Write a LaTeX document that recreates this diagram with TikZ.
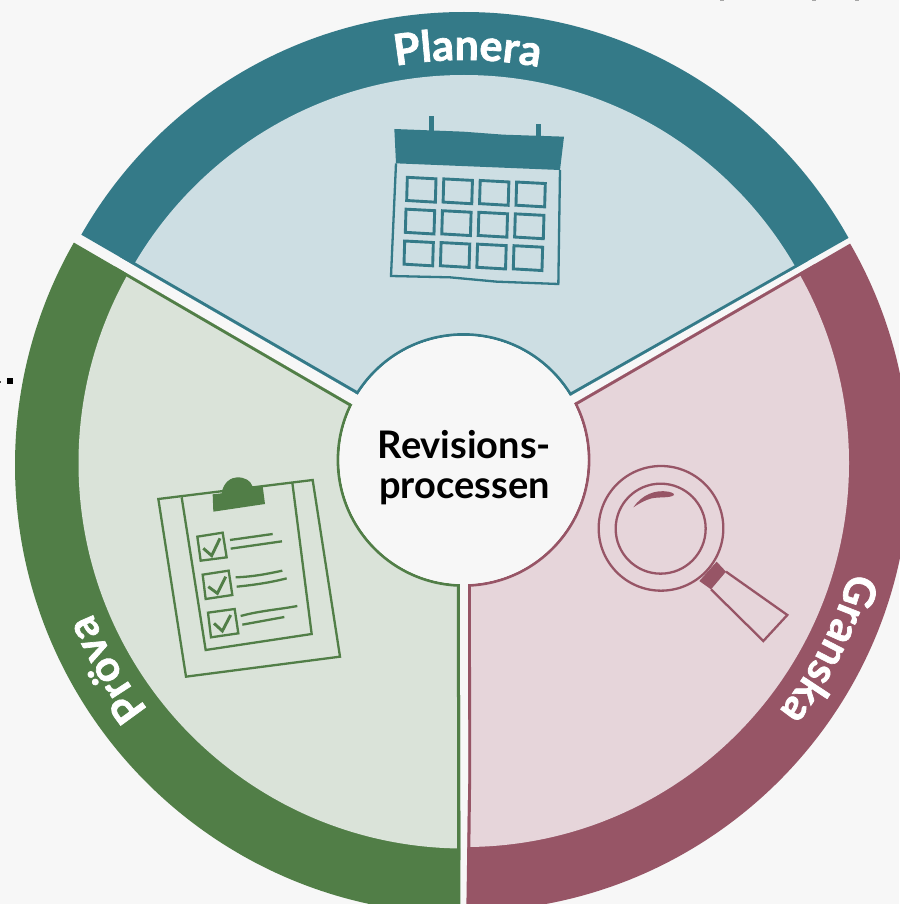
\documentclass[tikz,border=0pt]{standalone}
\usepackage{fontspec}
\setmainfont{Lato}
\newfontfamily\lblfont[FakeBold=1.6]{Lato Bold}
\usetikzlibrary{decorations.text}
\definecolor{bgc}{HTML}{F7F7F7}
\definecolor{tealc}{HTML}{347A88}
\definecolor{teall}{HTML}{CDDEE3}
\definecolor{grn}{HTML}{517E47}
\definecolor{grnl}{HTML}{DAE3D9}
\definecolor{mar}{HTML}{975566}
\definecolor{marl}{HTML}{E6D5DA}
\tikzset{
 icon/.style={line width=2.3pt,line join=miter},
 cell/.style={line width=2.9pt,line join=miter},
 edgeline/.style={line width=5.6pt,line join=miter},
 hub/.style={line width=2.8pt,fill=bgc},
}
\begin{document}
\begin{tikzpicture}[x=1pt,y=-1pt]
\useasboundingbox (0,0) rectangle (899,904);
\fill[bgc] (0,0) rectangle (899,904);
% stray marks at the edges of the crop
\fill[black] (7,378) rectangle (13,384);
\fill[black!70] (0,381) rectangle (1,383);
\fill[black!35] (720,0) rectangle (724,1);
\fill[black!35] (812,0) rectangle (816,1);
\fill[black!35] (855,0) rectangle (859,1);
% Planera sector
\begin{scope}
\clip (-60,153) -- (464,456) -- (1000,152) -- (1000,-100) -- (-60,-100) -- cycle;
\fill[tealc] (464,452) circle[radius=440];
\fill[teall] (464,457) circle[radius=382];
\draw[tealc,edgeline] (120,257) -- (464,456) -- (808,261);
\draw[tealc,hub] (463.5,460) circle[radius=125.5];
\end{scope}
% Granska sector
\begin{scope}
\clip (1000,156.8) -- (468,464.8) -- (468.3,780) -- (466,930) -- (1000,930) -- cycle;
\fill[mar] (464,466) circle[radius=445.5];
\fill[marl] (465,463) circle[radius=384];
\draw[mar,edgeline] (815,264) -- (468,464.8) -- (468.3,780) -- (467.4,860);
\draw[mar,hub] (463.5,460) circle[radius=125.5];
\end{scope}
% Prova sector
\begin{scope}
\clip (-100,141.4) -- (459.5,467) -- (460.5,930) -- (-100,930) -- cycle;
\fill[grn] (464,465) circle[radius=449];
\fill[grnl] (464,463) circle[radius=385.5];
\draw[grn,edgeline] (115,266.5) -- (459.5,467) -- (460,860);
\draw[grn,hub] (463.5,460) circle[radius=125.5];
\end{scope}
% hub text on a clean disc
\fill[bgc] (463.5,460) circle[radius=124];
\node[font=\fontsize{38}{39.5}\selectfont\bfseries,align=center,text=black,inner sep=0pt] (hubtext) at (464.5,467.5) {Revisions-\\processen};
% curved labels
\begin{scope}[y=1pt]
\path[decorate,decoration={text along path,text align=center,
  text={|\lblfont\fontsize{43}{43}\selectfont\color{white}|Planera}}]
  (464,-460) ++(110:400) arc[start angle=110,end angle=69,radius=400];
\path[decorate,decoration={text along path,text align=center,
  text={|\lblfont\fontsize{43}{43}\selectfont\color{white}|Granska}}]
  (464,-463) ++(-7:401) arc[start angle=-7,end angle=-47,radius=401];
\path[decorate,decoration={text along path,text align=center,
  text={|\lblfont\fontsize{43}{43}\selectfont\color{white}|Pröva}}]
  (464,-463) ++(230:401) arc[start angle=230,end angle=190,radius=401];
\end{scope}
% calendar
\begin{scope}[shift={(370,100)},scale=1/3,tealc]
\fill (178,48) rectangle (192,92);
\fill (499,72) rectangle (512,110);
\fill (73,87) -- (280,95) -- (400,104) -- (582,110) -- (570,210) -- (78,190) -- cycle;
\draw[icon] (78,190) -- (63,528) -- (240,532) -- (380,545) -- (565,552) -- (570,210);
\foreach \i in {0,1,2,3}
 \foreach \j in {0,1,2}
  \draw[cell] ({112+109.3*\i-4*\j},{232+4.7*\i+95.5*\j}) -- ++(86,4.5) -- ++(-2,70) -- ++(-86,-5) -- cycle;
\end{scope}
% clipboard
\begin{scope}[shift={(140,460)},scale=1/3,grn]
\draw[icon] (55,117) -- (518,60) -- (600,590) -- (138,650) -- cycle;
\draw[icon] (125,112) -- (197,570) -- (515,522) -- (457,68);
\fill (218,103) -- (245,100) .. controls (250,65) and (275,52) .. (292,52) .. controls (315,52) and (332,62) .. (337,78) -- (368,78) -- (375,132) -- (220,155) -- cycle;
\draw[icon] (172,230) -- (248,218) -- (260,292) -- (182,302) -- cycle;
\draw[icon] (188,344) -- (266,332) -- (277,405) -- (197,417) -- cycle;
\draw[icon] (204,458) -- (284,447) -- (295,520) -- (213,532) -- cycle;
\draw[cell] (190,265) -- (215,287) -- (240,235);
\draw[cell] (205,380) -- (232,400) -- (257,350);
\draw[cell] (222,490) -- (247,513) -- (272,465);
\draw[icon] (270,240) -- (398,222);
\draw[icon] (272,266) -- (426,244);
\draw[icon] (287,352) .. controls (340,350) and (380,342) .. (427,332);
\draw[icon] (290,380) .. controls (340,375) and (390,368) .. (440,355);
\draw[icon] (302,468) .. controls (360,452) and (420,448) .. (472,438);
\draw[icon] (307,494) -- (433,471);
\end{scope}
% magnifier
\begin{scope}[shift={(580,450)},scale=1/3,mar]
\draw[icon] (243,235) circle[radius=187];
\draw[icon] (242,236) circle[radius=135];
\fill (160,172) .. controls (185,135) and (225,118) .. (265,125) .. controls (280,128) and (285,133) .. (282,135) .. controls (270,145) and (240,140) .. (215,145) .. controls (195,150) and (175,162) .. (160,172) -- cycle;
\fill (410,335) -- (438,365) -- (393,418) -- (358,393) -- cycle;
\draw[icon] (438,365) -- (530,430) -- (622,495) -- (550,573) -- (393,418);
\end{scope}
\end{tikzpicture}
\end{document}
